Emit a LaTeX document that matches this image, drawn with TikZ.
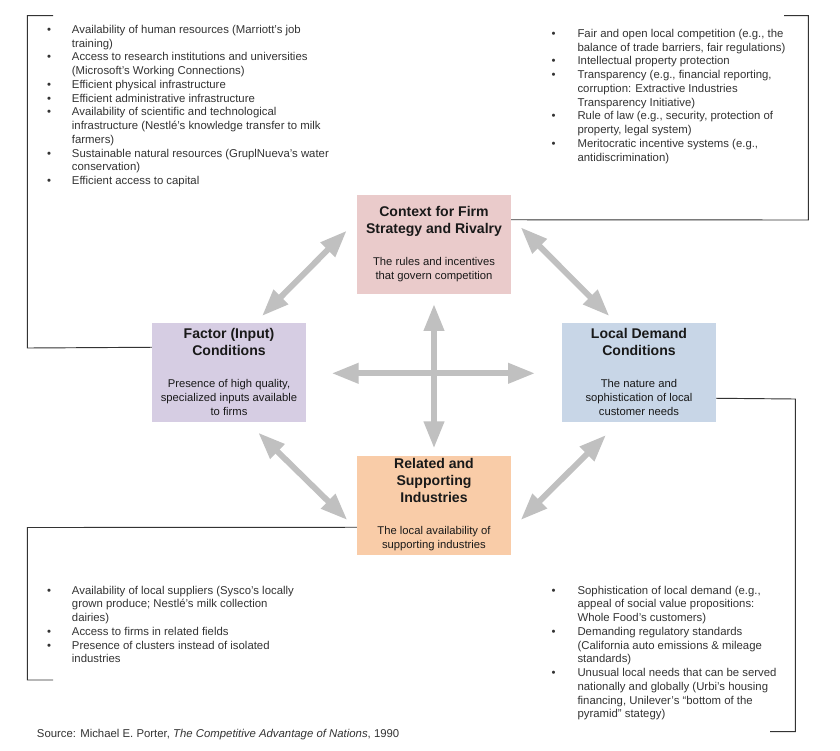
\documentclass[tikz,border=0pt]{standalone}
\usepackage{fontspec}
\setmainfont{Liberation Sans}
\usepackage{tikz}
\usetikzlibrary{arrows.meta,calc}
\definecolor{ctxpink}{RGB}{234,203,203}
\definecolor{faclilac}{RGB}{214,205,227}
\definecolor{demblue}{RGB}{200,214,231}
\definecolor{relpeach}{RGB}{249,204,168}
\definecolor{arrowgray}{RGB}{192,192,192}
\newcommand{\ttl}{\fontsize{12}{14.5}\selectfont\bfseries}
\newcommand{\bul}{\textbullet}
\tikzset{
  box/.style={minimum width=4.62cm, minimum height=2.97cm, inner sep=0pt,
    align=center, font=\fontsize{9.6}{12}\selectfont, text=black!90},
  link/.style={draw=arrowgray, line width=5pt,
    {Triangle[width=16.5pt,length=23pt]}-{Triangle[width=16.5pt,length=23pt]}},
  bracket/.style={draw=black!80, line width=0.8pt},
  blist/.style={anchor=base west, inner sep=0pt, text=black!80,
    font=\fontsize{9.7}{11.72}\selectfont}
}

\begin{document}
\begin{tikzpicture}[x=0.03cm, y=-0.03cm]
        \useasboundingbox (0,0) rectangle (840,750);
        \fill[white] (0,0) rectangle (840,750);
        % The four boxes
        \node[box, fill=ctxpink] (ctx) at (434,244.5)
          {{\ttl Context for Firm}\\[2.5pt]{\ttl Strategy and Rivalry}\\[15.3pt]The rules and incentives\\that govern competition};
        \node[box, fill=faclilac] (fac) at (229,372)
          {{\ttl Factor (Input)}\\[2.5pt]{\ttl Conditions}\\[15.3pt]Presence of high quality,\\specialized inputs available\\to firms};
        \node[box, fill=demblue] (dem) at (639,372)
          {{\ttl Local Demand}\\[2.5pt]{\ttl Conditions}\\[15.3pt]The nature and\\sophistication of local\\customer needs};
        \node[box, fill=relpeach] (rel) at (434,505)
          {{\ttl Related and}\\[2.5pt]{\ttl Supporting}\\[2.5pt]{\ttl Industries}\\[15.3pt]The local availability of\\supporting industries};
        % Define arrow ends
        \coordinate (a1) at (262,316);     \coordinate (a2) at (346.7,230.7);
        \coordinate (b1) at (520.7,227.3); \coordinate (b2) at (609.3,316);
        \coordinate (c1) at (258.3,432.7); \coordinate (c2) at (347.3,520);
        \coordinate (d1) at (606,435);     \coordinate (d2) at (520.7,520);
        \coordinate (v1) at (434,304);     \coordinate (v2) at (434,448.3);
        \coordinate (h1) at (331.7,373.3); \coordinate (h2) at (535,373.3);
        % Arrows
        \draw[link] (a1) -- (a2);
        \draw[link] (b1) -- (b2);
        \draw[link] (c1) -- (c2);
        \draw[link] (d1) -- (d2);
        \draw[link] (v1) -- (v2);
        \draw[link] (h1) -- (h2);
        % Brackets
        \draw[bracket] ($(fac.north west)+(0,25)$) -- (27.3,348) -- (27.3,15.7) -- (53,15.7);
        \draw[bracket] ($(ctx.north east)+(0,25)$) -- (808.3,220) -- (808.3,15.7) -- (784,15.7);
        \draw[bracket] ($(dem.north east)+(0,76)$) -- (795.3,399) -- (795.3,731.7) -- (770,731.7);
        \draw[bracket] ($(rel.north west)+(0,72)$) -- (27.3,527.5) -- (27.3,680) -- (53,680);
        % Lists
        \node[blist] (lst-fac) at (47,33.5) {\begin{tabular}[t]{@{}l@{\hspace{17.7pt}}l@{}}
          \bul & Availability of human resources (Marriott’s job\\
               & training)\\
          \bul & Access to research institutions and universities\\
               & (Microsoft’s Working Connections)\\
          \bul & Efficient physical infrastructure\\
          \bul & Efficient administrative infrastructure\\
          \bul & Availability of scientific and technological\\
               & infrastructure (Nestlé’s knowledge transfer to milk\\
               & farmers)\\
          \bul & Sustainable natural resources (GruplNueva’s water\\
               & conservation)\\
          \bul & Efficient access to capital
        \end{tabular}};
        \node[blist] (lst-ctx) at (551.3,37.5) {\begin{tabular}[t]{@{}l@{\hspace{18.8pt}}l@{}}
          \bul & Fair and open local competition (e.g., the\\
               & balance of trade barriers, fair regulations)\\
          \bul & Intellectual property protection\\
          \bul & Transparency (e.g., financial reporting,\\
               & corruption: Extractive Industries\\
               & Transparency Initiative)\\
          \bul & Rule of law (e.g., security, protection of\\
               & property, legal system)\\
          \bul & Meritocratic incentive systems (e.g.,\\
               & antidiscrimination)
        \end{tabular}};
        \node[blist] (lst-rel) at (47,594.2) {\begin{tabular}[t]{@{}l@{\hspace{17.7pt}}l@{}}
          \bul & Availability of local suppliers (Sysco’s locally\\
               & grown produce; Nestlé’s milk collection\\
               & dairies)\\
          \bul & Access to firms in related fields\\
          \bul & Presence of clusters instead of isolated\\
               & industries
        \end{tabular}};
        \node[blist] (lst-dem) at (551.3,594.2) {\begin{tabular}[t]{@{}l@{\hspace{18.8pt}}l@{}}
          \bul & Sophistication of local demand (e.g.,\\
               & appeal of social value propositions:\\
               & Whole Food’s customers)\\
          \bul & Demanding regulatory standards\\
               & (California auto emissions \& mileage\\
               & standards)\\
          \bul & Unusual local needs that can be served\\
               & nationally and globally (Urbi’s housing\\
               & financing, Unilever’s “bottom of the\\
               & pyramid” stategy)
        \end{tabular}};
        % Source
        \node[blist] (src) at (36.7,737.5) {Source: Michael E. Porter, \textit{The Competitive Advantage of Nations}, 1990};
\end{tikzpicture}
\end{document}
